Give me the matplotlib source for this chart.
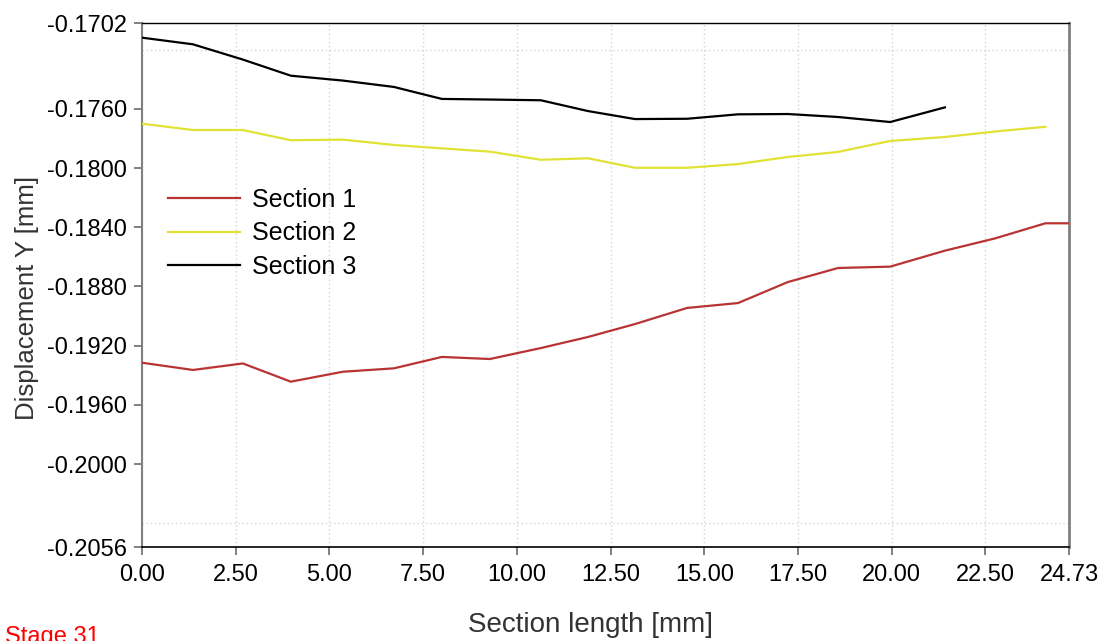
import matplotlib
matplotlib.use('Agg')
import matplotlib.pyplot as plt
from matplotlib.ticker import FixedLocator

plt.rcParams['font.family'] = ['Liberation Sans', 'DejaVu Sans']

# data
x_pts = [0.0, 1.36, 2.69, 3.97, 5.36, 6.72, 8.0, 9.28, 10.64, 11.9,
         13.15, 14.54, 15.9, 17.23, 18.57, 19.96, 21.42, 22.76, 24.1, 24.73]

sec1 = [-0.19315, -0.19364, -0.19320, -0.19443, -0.19376, -0.19353, -0.19276,
        -0.19290, -0.19216, -0.19141, -0.19054, -0.18945, -0.18912, -0.18770,
        -0.18675, -0.18666, -0.18558, -0.18475, -0.18373, -0.18373]

sec2 = [-0.17700, -0.17743, -0.17743, -0.17812, -0.17808, -0.17844, -0.17867,
        -0.17889, -0.17944, -0.17934, -0.17998, -0.17998, -0.17973, -0.17925,
        -0.17891, -0.17817, -0.17790, -0.17753, -0.17721]

sec3 = [-0.17119, -0.17164, -0.17267, -0.17376, -0.17409, -0.17452, -0.17533,
        -0.17537, -0.17542, -0.17615, -0.17669, -0.17667, -0.17637, -0.17635,
        -0.17655, -0.17689, -0.17590]

names = ['Section 1', 'Section 2', 'Section 3']
colors = ['#B83434', '#E2E236', '#000000']

x_ticks = [0, 2.5, 5, 7.5, 10, 12.5, 15, 17.5, 20, 22.5, 24.73]
y_ticks = [-0.1702, -0.1760, -0.1800, -0.1840, -0.1880, -0.1920,
           -0.1960, -0.2000, -0.2056]
y_grid = [-0.1720, -0.1760, -0.1800, -0.1840, -0.1880, -0.1920,
          -0.1960, -0.2000, -0.2040]

fig = plt.figure(figsize=(11.04, 6.41), dpi=100)
fig.patch.set_facecolor('white')
ax = fig.add_axes([142/1104, 1 - 547/641, 927/1104, 524/641])

series = [sec1, sec2, sec3]
for vals, name, c in zip(series, names, colors):
    ax.plot(x_pts[:len(vals)], vals, color=c, lw=1.6, label=name,
            solid_joinstyle='miter', zorder=3)

ax.set_xlim(0, 24.73)
ax.set_ylim(-0.2056, -0.1702)

ax.set_xticks(x_ticks)
ax.set_xticklabels(['%.2f' % v for v in x_ticks])
ax.set_yticks(y_ticks)
ax.set_yticklabels(['%.4f' % v for v in y_ticks])
ax.yaxis.set_minor_locator(FixedLocator(y_grid))

ax.tick_params(axis='both', which='major', direction='out', length=6, width=1.4,
               color='#808080', labelsize=17, labelcolor='black')
ax.tick_params(axis='x', which='major', pad=6)
ax.tick_params(axis='y', which='major', pad=5)
ax.tick_params(axis='y', which='minor', length=0)

ax.grid(which='major', axis='x', color='#d4d4d4', lw=1, ls=(0, (1, 2)))
ax.grid(which='minor', axis='y', color='#d4d4d4', lw=1, ls=(0, (1, 2)))
ax.set_axisbelow(True)

ax.spines['left'].set_color('#808080')
ax.spines['left'].set_linewidth(1.5)
ax.spines['right'].set_color('#808080')
ax.spines['right'].set_linewidth(2)
ax.spines['top'].set_color('#000000')
ax.spines['top'].set_linewidth(1)
ax.spines['bottom'].set_color('#000000')
ax.spines['bottom'].set_linewidth(1.2)

ax.set_xlabel('Section length [mm]', fontsize=20, color='#333333')
ax.xaxis.set_label_coords((590 - 142) / 927, -(625 - 547) / 524)
ax.xaxis.label.set_va('center')
ax.set_ylabel('Displacement Y [mm]', fontsize=18.5, color='#333333')
ax.yaxis.set_label_coords(-(142 - 27) / 927, (547 - 298) / 524)
ax.yaxis.label.set_va('center')

ax.legend(loc='upper left', bbox_to_anchor=(0.028, 0.685), frameon=False,
          fontsize=18, handlelength=2.9, handletextpad=0.45,
          labelspacing=0.37, borderaxespad=0, borderpad=0)

fig.text(5/1104, 1 - 626/641, 'Stage 31', color='red', fontsize=17,
         ha='left', va='top')

fig.savefig('out.png', dpi=100, facecolor='white')
